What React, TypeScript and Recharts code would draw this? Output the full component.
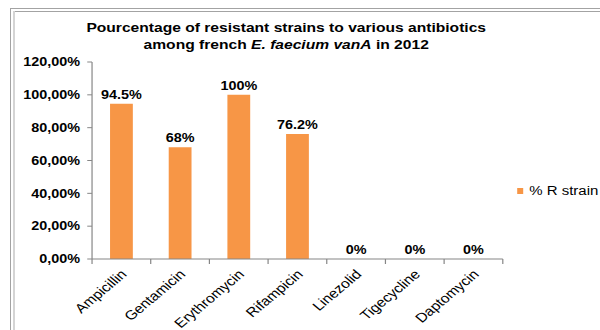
import React from "react";
import { BarChart, Bar, XAxis, YAxis, LabelList, Legend } from "recharts";

const antibiotics = ["Ampicillin", "Gentamicin", "Erythromycin", "Rifampicin", "Linezolid", "Tigecycline", "Daptomycin"];
const resistance = [94.5, 68, 100, 76.2, 0, 0, 0];
const yTicks = [0, 20, 40, 60, 80, 100, 120];
const seriesName = "% R strain";

const data = antibiotics.map((name, i) => ({ name, pct: resistance[i] }));

const FONT = "'Liberation Sans', Arial, sans-serif";
const AXIS = "#868686";
const BAR = "#F79646";
const TICK_LEN = 5;

const LegendContent = () => (
  <div style={{ display: "flex", alignItems: "center", fontFamily: FONT, fontSize: 12.5, color: "#000", whiteSpace: "nowrap" }}>
    <span style={{ display: "inline-block", width: 5, height: 6, background: BAR, marginRight: 5 }} />
    <span>{seriesName}</span>
  </div>
);

// Category tick: tick marks at the band boundaries (half a band from the centre), label rotated 45°
const CategoryTick = (props: any) => {
  const { x, y, payload, index, visibleTicksCount } = props;
  const half = payload && typeof payload.offset === "number" ? payload.offset : 0;
  const isLast = index === (visibleTicksCount ?? antibiotics.length) - 1;
  const axisY = y - 8;
  return (
    <g>
      <line x1={x - half} x2={x - half} y1={axisY} y2={axisY + TICK_LEN} stroke={AXIS} strokeWidth={1} />
      {isLast && <line x1={x + half} x2={x + half} y1={axisY} y2={axisY + TICK_LEN} stroke={AXIS} strokeWidth={1} />}
      <text
        x={x}
        y={y}
        dx={-2}
        dy={9.5}
        textAnchor="end"
        transform={`rotate(-45, ${x}, ${y})`}
        style={{ fontFamily: FONT, fontSize: 13, fill: "#000" }}
      >
        {payload.value}
      </text>
    </g>
  );
};

export default function App() {
  return (
    <div style={{ position: "absolute", left: 0, top: 0, width: 600, height: 330, overflow: "hidden", background: "#fff" }}>
      <div style={{ position: "absolute", left: 10, top: 8, width: 590, height: 1, background: "#a3a3a3" }} />
      <div style={{ position: "absolute", left: 10, top: 8, width: 1, height: 322, background: "#a3a3a3" }} />
      <div style={{ position: "absolute", left: 13, top: 11, width: 587, height: 1, background: "#a3a3a3" }} />
      <div style={{ position: "absolute", left: 13, top: 11, width: 2, height: 319, background: "#d4d4d4" }} />
      <div style={{ position: "absolute", left: 0, top: 0, width: 500, height: 330, transform: "scaleX(1.2)", transformOrigin: "0 0" }}>
        <div style={{ position: "absolute", left: 0, top: 19, width: 477, textAlign: "center", fontFamily: FONT, fontWeight: "bold", fontSize: 13, lineHeight: "17px", color: "#000" }}>
          <div>Pourcentage of resistant strains to various antibiotics</div>
          <div>among french <i>E. faecium vanA</i> in 2012</div>
        </div>
        <BarChart width={500} height={330} data={data} margin={{ top: 62, right: 81, left: 0, bottom: 0 }}>
          <XAxis
            dataKey="name"
            interval={0}
            stroke={AXIS}
            tickLine={false}
            height={71}
            tickSize={5}
            tickMargin={3}
            tick={<CategoryTick />}
          />
          <YAxis
            domain={[0, 120]}
            ticks={yTicks}
            width={76.7}
            stroke={AXIS}
            tickSize={4}
            tickMargin={6}
            tickFormatter={(v: number) => `${v},00%`}
            tick={{ fontFamily: FONT, fontSize: 12, fontWeight: "bold", fill: "#000" }}
          />
          <Legend
            layout="horizontal"
            align="center"
            verticalAlign="middle"
            content={<LegendContent />}
            wrapperStyle={{ position: "absolute", left: 431, top: 184, width: 70 }}
          />
          <Bar dataKey="pct" name={seriesName} fill={BAR} barSize={19} minPointSize={0.01} isAnimationActive={false}>
            <LabelList
              dataKey="pct"
              position="top"
              formatter={(v: number) => `${v}%`}
              style={{ fontFamily: FONT, fontSize: 12, fontWeight: "bold", fill: "#000" }}
            />
          </Bar>
        </BarChart>
      </div>
    </div>
  );
}
